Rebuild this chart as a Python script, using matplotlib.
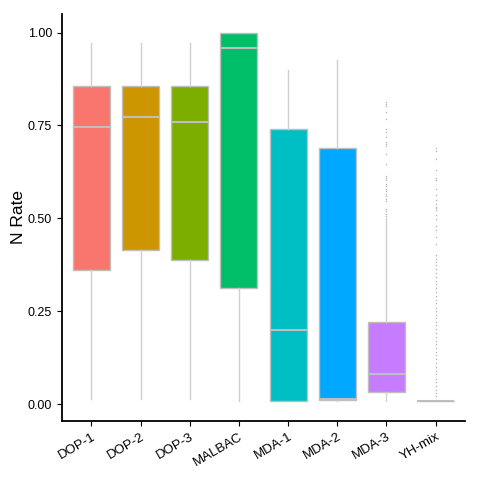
import matplotlib
matplotlib.use("Agg")
import matplotlib.pyplot as plt

plt.rcParams['font.family'] = ['Liberation Sans', 'DejaVu Sans']

grupos = ["DOP-1", "DOP-2", "DOP-3", "MALBAC", "MDA-1", "MDA-2", "MDA-3", "YH-mix"]
cores = ["#F8766D", "#CD9600", "#7CAE00", "#00BE67", "#00BFC4", "#00A9FF", "#C77CFF", "#FF61CC"]

whis_baixo = [0.013, 0.013, 0.013, 0.010, 0.010, 0.010, 0.008, 0.008]
q1 = [0.360, 0.414, 0.387, 0.312, 0.010, 0.012, 0.033, 0.008]
mediana = [0.745, 0.772, 0.758, 0.957, 0.200, 0.013, 0.080, 0.008]
q3 = [0.857, 0.857, 0.857, 1.000, 0.740, 0.690, 0.220, 0.008]
whis_alto = [0.973, 0.973, 0.973, 1.000, 0.900, 0.927, 0.500, 0.008]

outliers_mda3 = [0.813, 0.807, 0.802, 0.787, 0.768, 0.741, 0.733, 0.720, 0.706, 0.701,
                 0.694, 0.674, 0.647, 0.614, 0.609, 0.603, 0.593, 0.587, 0.580, 0.573,
                 0.566, 0.560, 0.553, 0.547, 0.526, 0.520, 0.513, 0.507]
outliers_yh = [0.690, 0.681, 0.660, 0.631, 0.609, 0.602, 0.580, 0.562, 0.550, 0.540,
               0.531, 0.529, 0.522, 0.510, 0.499, 0.480, 0.470, 0.451, 0.430, 0.401,
               0.392, 0.383, 0.374, 0.363, 0.354, 0.343, 0.331, 0.323, 0.312, 0.302,
               0.291, 0.280, 0.271, 0.260, 0.251, 0.240, 0.231, 0.221, 0.212, 0.202,
               0.191, 0.181, 0.170, 0.161, 0.151, 0.141, 0.132, 0.121, 0.110, 0.100,
               0.089, 0.081, 0.069, 0.060, 0.049, 0.038, 0.030, 0.022]
outliers = [[], [], [], [], [], [], outliers_mda3, outliers_yh]

stats = []
for i in range(len(grupos)):
    stats.append({
        "label": grupos[i],
        "whislo": whis_baixo[i],
        "q1": q1[i],
        "med": mediana[i],
        "q3": q3[i],
        "whishi": whis_alto[i],
        "fliers": outliers[i],
    })

fig = plt.figure(figsize=(4.8, 4.8), dpi=100)
ax = fig.add_axes([0.129, 0.123, 0.840, 0.848])

posicoes = list(range(1, len(grupos) + 1))
caixas = ax.bxp(stats, positions=posicoes, widths=0.75, patch_artist=True,
                showcaps=False,
                boxprops=dict(edgecolor="#BEBEBE", linewidth=1.0),
                medianprops=dict(color="#BEBEBE", linewidth=1.5),
                whiskerprops=dict(color="#D0D0D0", linewidth=1.0),
                flierprops=dict(marker="s", markersize=1.0, markerfacecolor="#B8B8B8",
                                markeredgecolor="none", linestyle="none"))

for caixa, cor in zip(caixas["boxes"], cores):
    caixa.set_facecolor(cor)

for lado in ["top", "right"]:
    ax.spines[lado].set_visible(False)
for lado in ["left", "bottom"]:
    ax.spines[lado].set_linewidth(1.3)
    ax.spines[lado].set_color("black")

ax.set_xlim(0.4, len(grupos) + 0.6)
ax.set_ylim(-0.045, 1.05)
ax.set_yticks([0, 0.25, 0.5, 0.75, 1.0])
ax.set_yticklabels(["0.00", "0.25", "0.50", "0.75", "1.00"], fontsize=9)
ax.set_xticks(posicoes)
ax.set_xticklabels(grupos, rotation=30, ha="right", rotation_mode="anchor", fontsize=9.5)
ax.tick_params(axis="both", length=3.5, width=0.8, color="black", labelcolor="black")
ax.set_ylabel("N Rate", fontsize=12.5, labelpad=1)

fig.savefig("out.png", dpi=100)
